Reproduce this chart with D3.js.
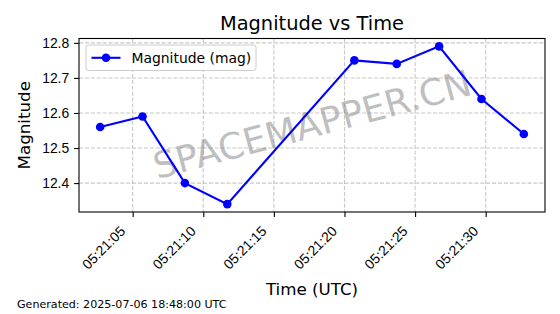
<!DOCTYPE html>
<html>
<head>
<meta charset="utf-8">
<script src="https://cdn.jsdelivr.net/npm/d3@7"></script>
<style>
  body { margin: 0; background: #fff; }
  svg { display: block; font-family: "DejaVu Sans", sans-serif; }
</style>
</head>
<body>
<div id="chart"></div>
<script>
var times = ['05:21:02.7', '05:21:05.7', '05:21:08.7', '05:21:11.7',
             '05:21:20.7', '05:21:23.7', '05:21:26.7', '05:21:29.7', '05:21:32.7'];
var mags  = [12.56, 12.59, 12.40, 12.34, 12.75, 12.74, 12.79, 12.64, 12.54];
var yTicks = [12.4, 12.5, 12.6, 12.7, 12.8];

var titleText  = 'Magnitude vs Time';
var xLabelText = 'Time (UTC)';
var yLabelText = 'Magnitude';
var legendText = 'Magnitude (mag)';
var footerText = 'Generated: 2025-07-06 18:48:00 UTC';
var watermark  = 'SPACEMAPPER.CN';

var W = 560, H = 314;
var margin = { top: 38.5, right: 15, bottom: 102, left: 79 };
var width  = W - margin.left - margin.right;
var height = H - margin.top - margin.bottom;

var data = times.map(function (t, i) {
    return { t: new Date('2025-07-06T' + t + 'Z'), v: mags[i] };
});

var svg = d3.select('#chart').append('svg')
            .attr('width', W)
            .attr('height', H);

var g = svg.append('g')
           .attr('transform', 'translate(' + margin.left + ',' + margin.top + ')');

// matplotlib style 5% margins
var tExt = d3.extent(data, function (d) { return d.t; });
var tPad = (tExt[1] - tExt[0]) * 0.05;
var xScale = d3.scaleUtc()
               .domain([new Date(+tExt[0] - tPad), new Date(+tExt[1] + tPad)])
               .range([0, width]);

var vExt = d3.extent(mags);
var vPad = (vExt[1] - vExt[0]) * 0.05;
var yScale = d3.scaleLinear()
               .domain([vExt[0] - vPad, vExt[1] + vPad])
               .range([height, 0]);

var xTicks = xScale.ticks(d3.utcSecond.every(5));

// grid
g.append('g')
 .selectAll('line.vgrid')
 .data(xTicks)
 .enter().append('line')
 .attr('x1', function (d) { return xScale(d); })
 .attr('x2', function (d) { return xScale(d); })
 .attr('y1', 0).attr('y2', height)
 .style('stroke', '#b0b0b0').style('stroke-opacity', 0.7)
 .style('stroke-width', 1.1).style('stroke-dasharray', '4.1,1.8');

g.append('g')
 .selectAll('line.hgrid')
 .data(yTicks)
 .enter().append('line')
 .attr('y1', function (d) { return yScale(d); })
 .attr('y2', function (d) { return yScale(d); })
 .attr('x1', 0).attr('x2', width)
 .style('stroke', '#b0b0b0').style('stroke-opacity', 0.7)
 .style('stroke-width', 1.1).style('stroke-dasharray', '4.1,1.8');

// watermark
g.append('text')
 .attr('transform', 'translate(' + (width / 2) + ',' + (height / 2 - 1) + ') rotate(-15)')
 .attr('text-anchor', 'middle')
 .attr('dy', '0.36em')
 .style('font-size', '36.5px')
 .style('fill', '#808080')
 .style('fill-opacity', 0.5)
 .text(watermark);

// series
var line = d3.line()
             .x(function (d) { return xScale(d.t); })
             .y(function (d) { return yScale(d.v); });

g.append('path')
 .datum(data)
 .attr('d', line)
 .style('fill', 'none')
 .style('stroke', '#0000ff')
 .style('stroke-width', 2.1);

g.selectAll('circle.pt')
 .data(data)
 .enter().append('circle')
 .attr('cx', function (d) { return xScale(d.t); })
 .attr('cy', function (d) { return yScale(d.v); })
 .attr('r', 4.3)
 .style('fill', '#0000ff');

// axes
var xAxis = d3.axisBottom(xScale)
              .tickValues(xTicks)
              .tickSize(4.9)
              .tickPadding(4.9)
              .tickFormat(d3.utcFormat('%H:%M:%S'));

var yAxis = d3.axisLeft(yScale)
              .tickValues(yTicks)
              .tickSize(4.9)
              .tickPadding(4.9)
              .tickFormat(d3.format('.1f'));

var gx = g.append('g')
          .attr('transform', 'translate(0,' + height + ')')
          .call(xAxis);

gx.selectAll('text')
  .attr('text-anchor', 'end')
  .attr('dy', null)
  .attr('y', 0)
  .attr('transform', 'translate(-7,20) rotate(-45)')
  .style('font-size', '13.9px')
  .style('fill', '#000');

var gy = g.append('g').call(yAxis);
gy.selectAll('text')
  .style('font-size', '13.9px')
  .style('fill', '#000');

[gx, gy].forEach(function (a) {
    a.select('.domain').remove();
    a.selectAll('line').style('stroke', '#000').style('stroke-width', 1.1);
});

// frame
g.append('rect')
 .attr('width', width).attr('height', height)
 .style('fill', 'none')
 .style('stroke', '#000')
 .style('stroke-width', 1.1);

// legend
var lg = g.append('g').attr('transform', 'translate(7,6.5)');
lg.append('rect')
  .attr('width', 170).attr('height', 25.5)
  .attr('rx', 2.5)
  .style('fill', '#fff').style('fill-opacity', 0.8)
  .style('stroke', '#cccccc').style('stroke-width', 1);
lg.append('line')
  .attr('x1', 5.5).attr('x2', 34.5)
  .attr('y1', 12.8).attr('y2', 12.8)
  .style('stroke', '#0000ff').style('stroke-width', 2.1);
lg.append('circle')
  .attr('cx', 20).attr('cy', 12.8).attr('r', 4.3)
  .style('fill', '#0000ff');
lg.append('text')
  .attr('x', 45.5).attr('y', 12.8)
  .attr('dy', '0.36em')
  .style('font-size', '13.9px')
  .text(legendText);

// titles
svg.append('text')
   .attr('x', margin.left + width / 2).attr('y', 30)
   .attr('text-anchor', 'middle')
   .style('font-size', '19.4px')
   .text(titleText);

svg.append('text')
   .attr('x', margin.left + width / 2).attr('y', 295)
   .attr('text-anchor', 'middle')
   .style('font-size', '16.7px')
   .text(xLabelText);

svg.append('text')
   .attr('transform', 'translate(30,' + (margin.top + height / 2) + ') rotate(-90)')
   .attr('text-anchor', 'middle')
   .style('font-size', '16.7px')
   .text(yLabelText);

svg.append('text')
   .attr('x', 17).attr('y', 308)
   .style('font-size', '11.1px')
   .text(footerText);
</script>
</body>
</html>
